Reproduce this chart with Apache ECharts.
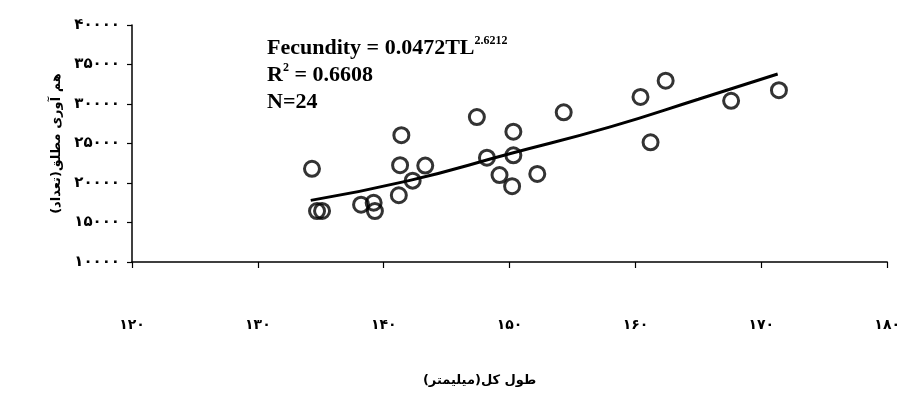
<!DOCTYPE html>
<html>
<head>
<meta charset="utf-8">
<script src="https://cdn.jsdelivr.net/npm/echarts@6/dist/echarts.min.js"></script>
<style>
  html, body { margin: 0; padding: 0; background: #fff; }
  #chart { width: 903px; height: 402px; }
</style>
</head>
<body>
<div id="chart"></div>
<script>
// total length (mm) and absolute fecundity
var totalLength = [134.3, 134.7, 135.1, 138.2, 139.2, 139.3, 141.4, 141.3, 141.2, 142.3, 143.3, 147.4,
  148.2, 149.2, 150.2, 150.3, 150.3, 152.2, 154.3, 160.4, 162.4, 161.2, 167.6, 171.4];
var fecundity = [21800, 16450, 16470, 17250, 17500, 16450, 26050, 22250, 18450, 20300, 22200, 28350,
  23200, 21000, 19600, 26500, 23500, 21150, 28950, 30900, 32950, 25150, 30400, 31750];

// power trend line as drawn in the picture
var trendX = [134.2, 142, 150, 158, 165, 171.3];
var trendY = [17800, 20300, 23700, 27100, 30600, 33800];

var xTicks = [120, 130, 140, 150, 160, 170, 180];
var xTickLabels = ['۱۲۰', '۱۳۰', '۱۴۰', '۱۵۰', '۱۶۰', '۱۷۰', '۱۸۰'];
var yTicks = [10000, 15000, 20000, 25000, 30000, 35000, 40000];
var yTickLabels = ['۱۰۰۰۰', '۱۵۰۰۰', '۲۰۰۰۰', '۲۵۰۰۰', '۳۰۰۰۰', '۳۵۰۰۰', '۴۰۰۰۰'];

var chart = echarts.init(document.getElementById('chart'));

var points = totalLength.map(function (v, i) { return [v, fecundity[i]]; });
var trend = trendX.map(function (v, i) { return [v, trendY[i]]; });

var faFont = 'DejaVu Sans';

chart.setOption({
  backgroundColor: '#fff',
  animation: false,
  title: {
    left: 262,
    top: 30,
    text: '{a|Fecundity = 0.0472TL}{s|2.6212}\n{a|R}{s|2}{a| = 0.6608}\n{a|N=24}',
    textStyle: {
      rich: {
        a: { fontFamily: 'Liberation Serif', fontWeight: 'bold', fontSize: 22, color: '#000', lineHeight: 27 },
        s: { fontFamily: 'Liberation Serif', fontWeight: 'bold', fontSize: 12, color: '#000', lineHeight: 27, verticalAlign: 'top', padding: [0, 0, 6, 0] }
      }
    }
  },
  grid: { left: 132, right: 13, top: 25, bottom: 140 },
  xAxis: {
    type: 'value',
    min: 120,
    max: 180,
    interval: 10,
    name: 'طول کل(میلیمتر)',
    nameLocation: 'middle',
    nameGap: 112,
    nameTextStyle: { fontFamily: faFont, fontWeight: 'bold', fontSize: 13, color: '#000', padding: [0, 0, 0, -60] },
    axisLine: { lineStyle: { color: '#000', width: 1.5 } },
    axisTick: { show: true, length: 6, lineStyle: { color: '#000', width: 1.2 } },
    splitLine: { show: false },
    axisLabel: {
      margin: 56,
      fontFamily: faFont,
      fontWeight: 'bold',
      fontSize: 14,
      color: '#000',
      formatter: function (v) { var i = xTicks.indexOf(v); return i >= 0 ? xTickLabels[i] : ''; }
    }
  },
  yAxis: {
    type: 'value',
    min: 10000,
    max: 40000,
    interval: 5000,
    name: 'هم آوری مطلق(تعداد)',
    nameLocation: 'middle',
    nameRotate: 90,
    nameGap: 58,
    nameTextStyle: { fontFamily: faFont, fontWeight: 'bold', fontSize: 13, color: '#000' },
    axisLine: { show: true, lineStyle: { color: '#000', width: 1.5 } },
    axisTick: { show: true, length: 5, lineStyle: { color: '#000', width: 1.2 } },
    splitLine: { show: false },
    axisLabel: {
      margin: 12,
      fontFamily: faFont,
      fontWeight: 'bold',
      fontSize: 15,
      color: '#000',
      formatter: function (v) { var i = yTicks.indexOf(v); return i >= 0 ? yTickLabels[i] : ''; }
    }
  },
  series: [
    {
      type: 'line',
      data: trend,
      smooth: true,
      symbol: 'none',
      lineStyle: { color: '#000', width: 3 },
      z: 2
    },
    {
      type: 'scatter',
      data: points,
      symbol: 'circle',
      symbolSize: 15,
      itemStyle: { color: 'rgba(255,255,255,0)', borderColor: '#000', borderWidth: 3 },
      z: 3
    }
  ]
});
</script>
</body>
</html>
